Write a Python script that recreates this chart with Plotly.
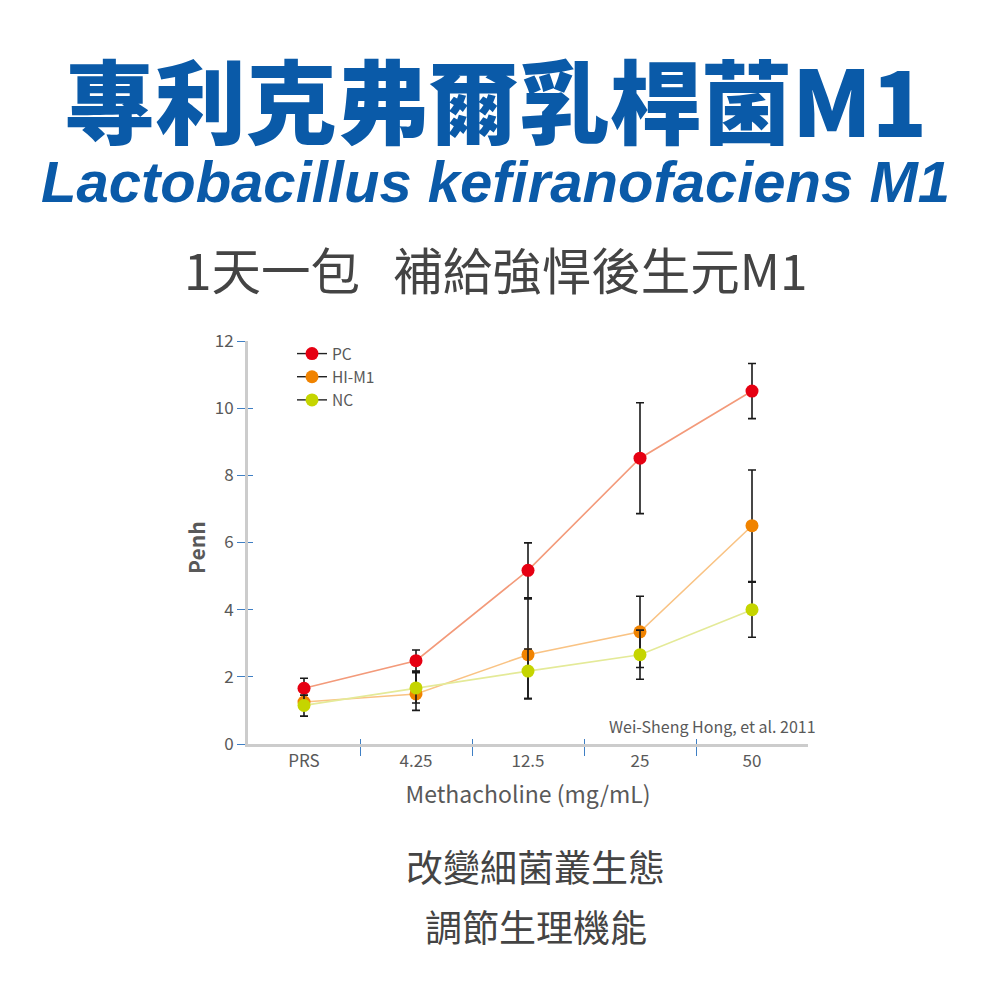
import plotly.graph_objects as go

# ---- data ----
categories = ["PRS", "4.25", "12.5", "25", "50"]
series_names = ["PC", "HI-M1", "NC"]
pc_values = [1.66, 2.48, 5.17, 8.51, 10.51]
hi_m1_values = [1.25, 1.49, 2.66, 3.34, 6.50]
nc_values = [1.15, 1.67, 2.17, 2.66, 4.00]
pc_err_plus = [0.30, 0.32, 0.82, 1.65, 0.82]
pc_err_minus = [0.30, 0.32, 0.82, 1.65, 0.82]
hi_m1_err_plus = [0.20, 0.68, 1.66, 1.06, 1.66]
hi_m1_err_minus = [0.20, 0.49, 1.31, 1.06, 1.66]
nc_err_plus = [0.30, 0.45, 0.66, 0.73, 0.82]
nc_err_minus = [0.32, 0.45, 0.82, 0.73, 0.82]
y_ticks = [0, 2, 4, 6, 8, 10, 12]

marker_colors = ["#e60012", "#f08300", "#c5d500"]
line_colors = ["#f39a7a", "#f9c384", "#e4ea98"]

FONT = "Noto Sans CJK TC"
GREY = "#595959"
DARK = "#444444"
BLUE = "#0a5aa8"
TICKBLUE = "#3f7fc4"

x_idx = list(range(len(categories)))
values = [pc_values, hi_m1_values, nc_values]
eplus = [pc_err_plus, hi_m1_err_plus, nc_err_plus]
eminus = [pc_err_minus, hi_m1_err_minus, nc_err_minus]

fig = go.Figure()
for name, v, ep, em, mc, lc in zip(series_names, values, eplus, eminus, marker_colors, line_colors):
    fig.add_trace(go.Scatter(
        x=x_idx, y=v, mode="lines+markers", name=name, showlegend=False,
        line=dict(color=lc, width=1.6),
        marker=dict(color=mc, size=13),
        error_y=dict(type="data", array=ep, arrayminus=em, color="#1a1a1a",
                     thickness=1.6, width=4),
    ))
# legend entries
for name, mc in zip(series_names, marker_colors):
    fig.add_trace(go.Scatter(
        x=[None], y=[None], mode="lines+markers", name=name,
        line=dict(color="#222222", width=1.4),
        marker=dict(color=mc, size=13),
    ))

# pixel geometry of the plot area (in page pixels); page body adds an 8px offset
OFF = 8
L, R, T, B = 248, 808, 341, 744
W, H = R - L, B - T


def px_x(px):
    return (px - L) / W


def px_y(py):
    return (B - py) / H


minor_vals = [i + 0.5 for i in range(len(categories) - 1)]

fig.update_layout(
    width=1000, height=1000,
    paper_bgcolor="white", plot_bgcolor="white",
    margin=dict(l=L - OFF, r=1000 - R + OFF, t=T - OFF, b=1000 - B + OFF, pad=0),
    font=dict(family=FONT, color=GREY, size=17),
    showlegend=True,
    legend=dict(x=px_x(292), y=px_y(337), xanchor="left", yanchor="top",
                bgcolor="rgba(0,0,0,0)", font=dict(size=15.5, color=GREY),
                itemwidth=30, tracegroupgap=0),
    xaxis=dict(
        range=[-0.5, len(categories) - 0.5], tickmode="array", tickvals=x_idx,
        ticktext=categories, ticks="", showgrid=False, zeroline=False,
        showline=True, linecolor="#cccccc", linewidth=3,
        tickfont=dict(size=17, color=GREY),
        minor=dict(tickmode="array", tickvals=minor_vals, ticks="outside",
                   ticklen=9, tickcolor=TICKBLUE, tickwidth=1.2, showgrid=False),
        title=dict(text="Methacholine (mg/mL)", font=dict(size=23, color=GREY), standoff=16),
    ),
    xaxis2=dict(
        overlaying="x", matches="x", anchor="y", showticklabels=False,
        tickmode="array", tickvals=x_idx, ticks="", showgrid=False, zeroline=False,
        showline=False,
        minor=dict(tickmode="array", tickvals=minor_vals, ticks="inside",
                   ticklen=5, tickcolor=TICKBLUE, tickwidth=1.2, showgrid=False),
    ),
    yaxis=dict(
        range=[0, 12], tickmode="array", tickvals=y_ticks, ticks="outside",
        ticklen=8, tickcolor=TICKBLUE, tickwidth=1.2, showgrid=False,
        zeroline=False, showline=True, linecolor="#cccccc", linewidth=3,
        tickfont=dict(size=17, color=GREY),
    ),
    yaxis2=dict(
        overlaying="y", matches="y", anchor="x", showticklabels=False,
        tickmode="array", tickvals=y_ticks, ticks="inside", ticklen=5,
        tickcolor=TICKBLUE, tickwidth=1.2, showgrid=False, zeroline=False, showline=False,
    ),
)
# dummy trace to activate overlay axes
fig.add_trace(go.Scatter(x=[None], y=[None], xaxis="x2", yaxis="y2", showlegend=False, hoverinfo="skip"))

ann = []
ann.append(dict(text="專利克弗爾乳桿菌M1", x=px_x(495), y=px_y(97), xref="paper", yref="paper",
                showarrow=False, xanchor="center", yanchor="middle",
                font=dict(family=FONT, size=91, color=BLUE, weight=900)))
ann.append(dict(text="<i>Lactobacillus kefiranofaciens M1</i>", x=px_x(495), y=px_y(182),
                xref="paper", yref="paper", showarrow=False, xanchor="center", yanchor="middle",
                font=dict(family="Liberation Sans", size=58, color=BLUE, weight="bold", style="italic")))
ann.append(dict(text="1天一包   補給強悍後生元M1", x=px_x(495), y=px_y(268), xref="paper", yref="paper",
                showarrow=False, xanchor="center", yanchor="middle",
                font=dict(family=FONT, size=49.5, color=DARK)))
ann.append(dict(text="Penh", x=px_x(196), y=px_y(548), xref="paper", yref="paper",
                showarrow=False, xanchor="center", yanchor="middle", textangle=-90,
                font=dict(family=FONT, size=21, color=GREY, weight="bold")))
ann.append(dict(text="改變細菌叢生態", x=px_x(535), y=px_y(866), xref="paper", yref="paper",
                showarrow=False, xanchor="center", yanchor="middle",
                font=dict(family=FONT, size=37, color=DARK)))
ann.append(dict(text="調節生理機能", x=px_x(536), y=px_y(926), xref="paper", yref="paper",
                showarrow=False, xanchor="center", yanchor="middle",
                font=dict(family=FONT, size=37, color=DARK)))
ann.append(dict(text="Wei-Sheng Hong, et al. 2011", x=px_x(818), y=px_y(726), xref="paper", yref="paper",
                showarrow=False, xanchor="right", yanchor="middle",
                font=dict(family=FONT, size=16, color=GREY)))
fig.update_layout(annotations=ann)

fig.write_html("out.html")
